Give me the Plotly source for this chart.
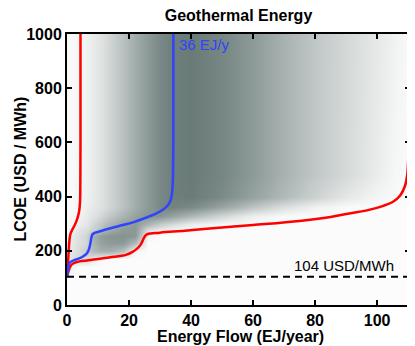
import plotly.graph_objects as go

# supply-curve bands (EJ/year, USD/MWh)
low_flow = [0.05, 0.3, 0.55, 0.8, 1.1, 1.7, 2.5, 3.3, 3.9, 4.2, 4.3, 4.35, 4.35]
low_lcoe = [104, 150, 200, 240, 262, 278, 295, 318, 345, 380, 450, 600, 1000]

median_flow = [0.05, 0.3, 0.8, 1.8, 3.5, 5, 6.2, 7, 7.5, 7.9, 8.3, 11, 14, 18, 21.5, 25,
               28.5, 31, 32.5, 33.5, 34, 34.2, 34.3]
median_lcoe = [104, 130, 155, 163, 170, 178, 188, 203, 225, 250, 262, 273, 283, 295, 306, 320,
               336, 352, 368, 390, 430, 500, 1000]

high_flow = [0.05, 0.5, 1.2, 2, 4, 7, 10, 14, 19, 21, 22.5, 23.7, 24.5, 25.2, 26, 30, 38, 46,
             60, 75, 85, 91, 97, 102, 105, 107.5, 109, 109.7, 110.1, 110.4, 110.5]
high_lcoe = [104, 125, 145, 153, 161, 165, 170, 176, 185, 195, 207, 222, 240, 255, 262, 267, 274, 282,
             295, 310, 325, 338, 350, 366, 380, 405, 440, 480, 560, 700, 1000]

threshold = 104
median_label = "36 EJ/y"

# density of scenarios behind the curves (0 = none, 1 = darkest)
grid_flow = [0, 1, 2.5, 4, 6, 8, 11, 14, 18, 22, 26, 30, 34, 40, 50, 60, 70, 80, 90, 100, 106, 110]
grid_lcoe = [0, 100, 140, 170, 200, 230, 255, 275, 300, 330, 360, 400, 480, 1000]
shade = [
    [0] * 22,
    [0] * 22,
    [.02, .10, .04, .01, .01, .01, .01, .01, .01, .01, .01, .01, .01, .01, .01, .01, .01, .01, .01, .01, .01, .01],
    [.02, .15, .25, .28, .25, .15, .03, .01, .01, .01, .01, .01, .01, .01, .01, .01, .01, .01, .01, .01, .01, .01],
    [.03, .15, .20, .25, .35, .48, .58, .58, .45, .05, .01, .01, .01, .01, .01, .01, .01, .01, .01, .01, .01, .01],
    [.03, .12, .18, .22, .28, .52, .68, .74, .75, .50, .01, .01, .01, .01, .01, .01, .01, .01, .01, .01, .01, .01],
    [.03, .10, .18, .22, .28, .55, .72, .78, .80, .75, .05, .01, .01, .01, .01, .01, .01, .01, .01, .01, .01, .01],
    [.02, .05, .12, .18, .22, .32, .48, .62, .74, .76, .22, .12, .05, .02, .01, .01, .01, .01, .01, .01, .01, .01],
    [.02, .03, .06, .10, .16, .26, .40, .55, .68, .75, .55, .38, .27, .12, .03, .01, .01, .01, .01, .01, .01, .01],
    [.02, .02, .04, .07, .12, .18, .28, .40, .55, .68, .78, .78, .68, .52, .28, .10, .02, .01, .01, .01, .01, .01],
    [.02, .02, .03, .06, .10, .14, .20, .29, .44, .60, .75, .88, .92, .87, .66, .42, .22, .08, .02, .01, .01, .01],
    [.02, .02, .03, .05, .08, .12, .19, .30, .45, .60, .75, .87, .95, .97, .86, .68, .50, .32, .16, .05, .02, .01],
    [.02, .02, .03, .05, .08, .12, .19, .30, .45, .60, .75, .87, .95, .98, .89, .74, .56, .40, .26, .12, .04, .02],
    [.02, .02, .03, .05, .08, .12, .19, .30, .45, .60, .75, .87, .95, .98, .89, .74, .56, .40, .27, .15, .07, .03],
]

font = "Liberation Sans, Arial, Helvetica, sans-serif"
red = "#ff0000"
blue = "#2f44ff"
bold16 = dict(family=font, size=16, color="black", weight="bold")

fig = go.Figure()
fig.add_trace(go.Heatmap(
    x=grid_flow, y=grid_lcoe, z=shade, zmin=0, zmax=1, zsmooth="best",
    colorscale=[[0, "rgb(252,252,252)"], [1, "rgb(102,120,117)"]],
    showscale=False, hoverinfo="skip"))
fig.add_trace(go.Scatter(x=low_flow, y=low_lcoe, mode="lines",
                         line=dict(color=red, width=2.5), line_shape="spline"))
fig.add_trace(go.Scatter(x=high_flow, y=high_lcoe, mode="lines",
                         line=dict(color=red, width=2.5), line_shape="spline"))
fig.add_trace(go.Scatter(x=median_flow, y=median_lcoe, mode="lines",
                         line=dict(color=blue, width=2.5), line_shape="spline"))

fig.add_hline(y=threshold, line=dict(color="black", width=2, dash="7px,5px"))
fig.add_annotation(x=106, y=threshold, text=f"{threshold} USD/MWh", showarrow=False,
                   xanchor="right", yanchor="bottom", yshift=1,
                   font=dict(family=font, size=15, color="black"))
fig.add_annotation(x=35.6, y=960, text=median_label, showarrow=False,
                   xanchor="left", yanchor="middle",
                   font=dict(family=font, size=15, color=blue))

# axis titles as annotations so the plot area stays put
fig.add_annotation(xref="paper", yref="paper", x=0.507, y=-0.118, text="Energy Flow (EJ/year)",
                   showarrow=False, xanchor="center", yanchor="middle", font=bold16)
fig.add_annotation(xref="paper", yref="paper", x=-0.137, y=0.5, text="LCOE (USD / MWh)",
                   textangle=-90, showarrow=False, xanchor="center", yanchor="middle", font=bold16)

axis = dict(showline=True, linewidth=2, linecolor="black", mirror="ticks",
            ticks="inside", ticklen=5, tickwidth=1.5, tickcolor="black",
            showgrid=False, zeroline=False, automargin=False,
            tickfont=bold16)

# the page body adds an 8px margin, so the figure is sized for what remains visible
fig.update_layout(
    width=407, height=338,
    margin=dict(l=59, r=5, t=26, b=41),
    paper_bgcolor="white", plot_bgcolor="white",
    showlegend=False,
    title=dict(text="Geothermal Energy", x=0.5, xref="paper", y=0.978, yanchor="middle",
               font=bold16),
    xaxis=dict(axis, range=[0, 110.6], dtick=20),
    yaxis=dict(axis, range=[0, 1000], dtick=200),
)

fig.write_html("out.html")
